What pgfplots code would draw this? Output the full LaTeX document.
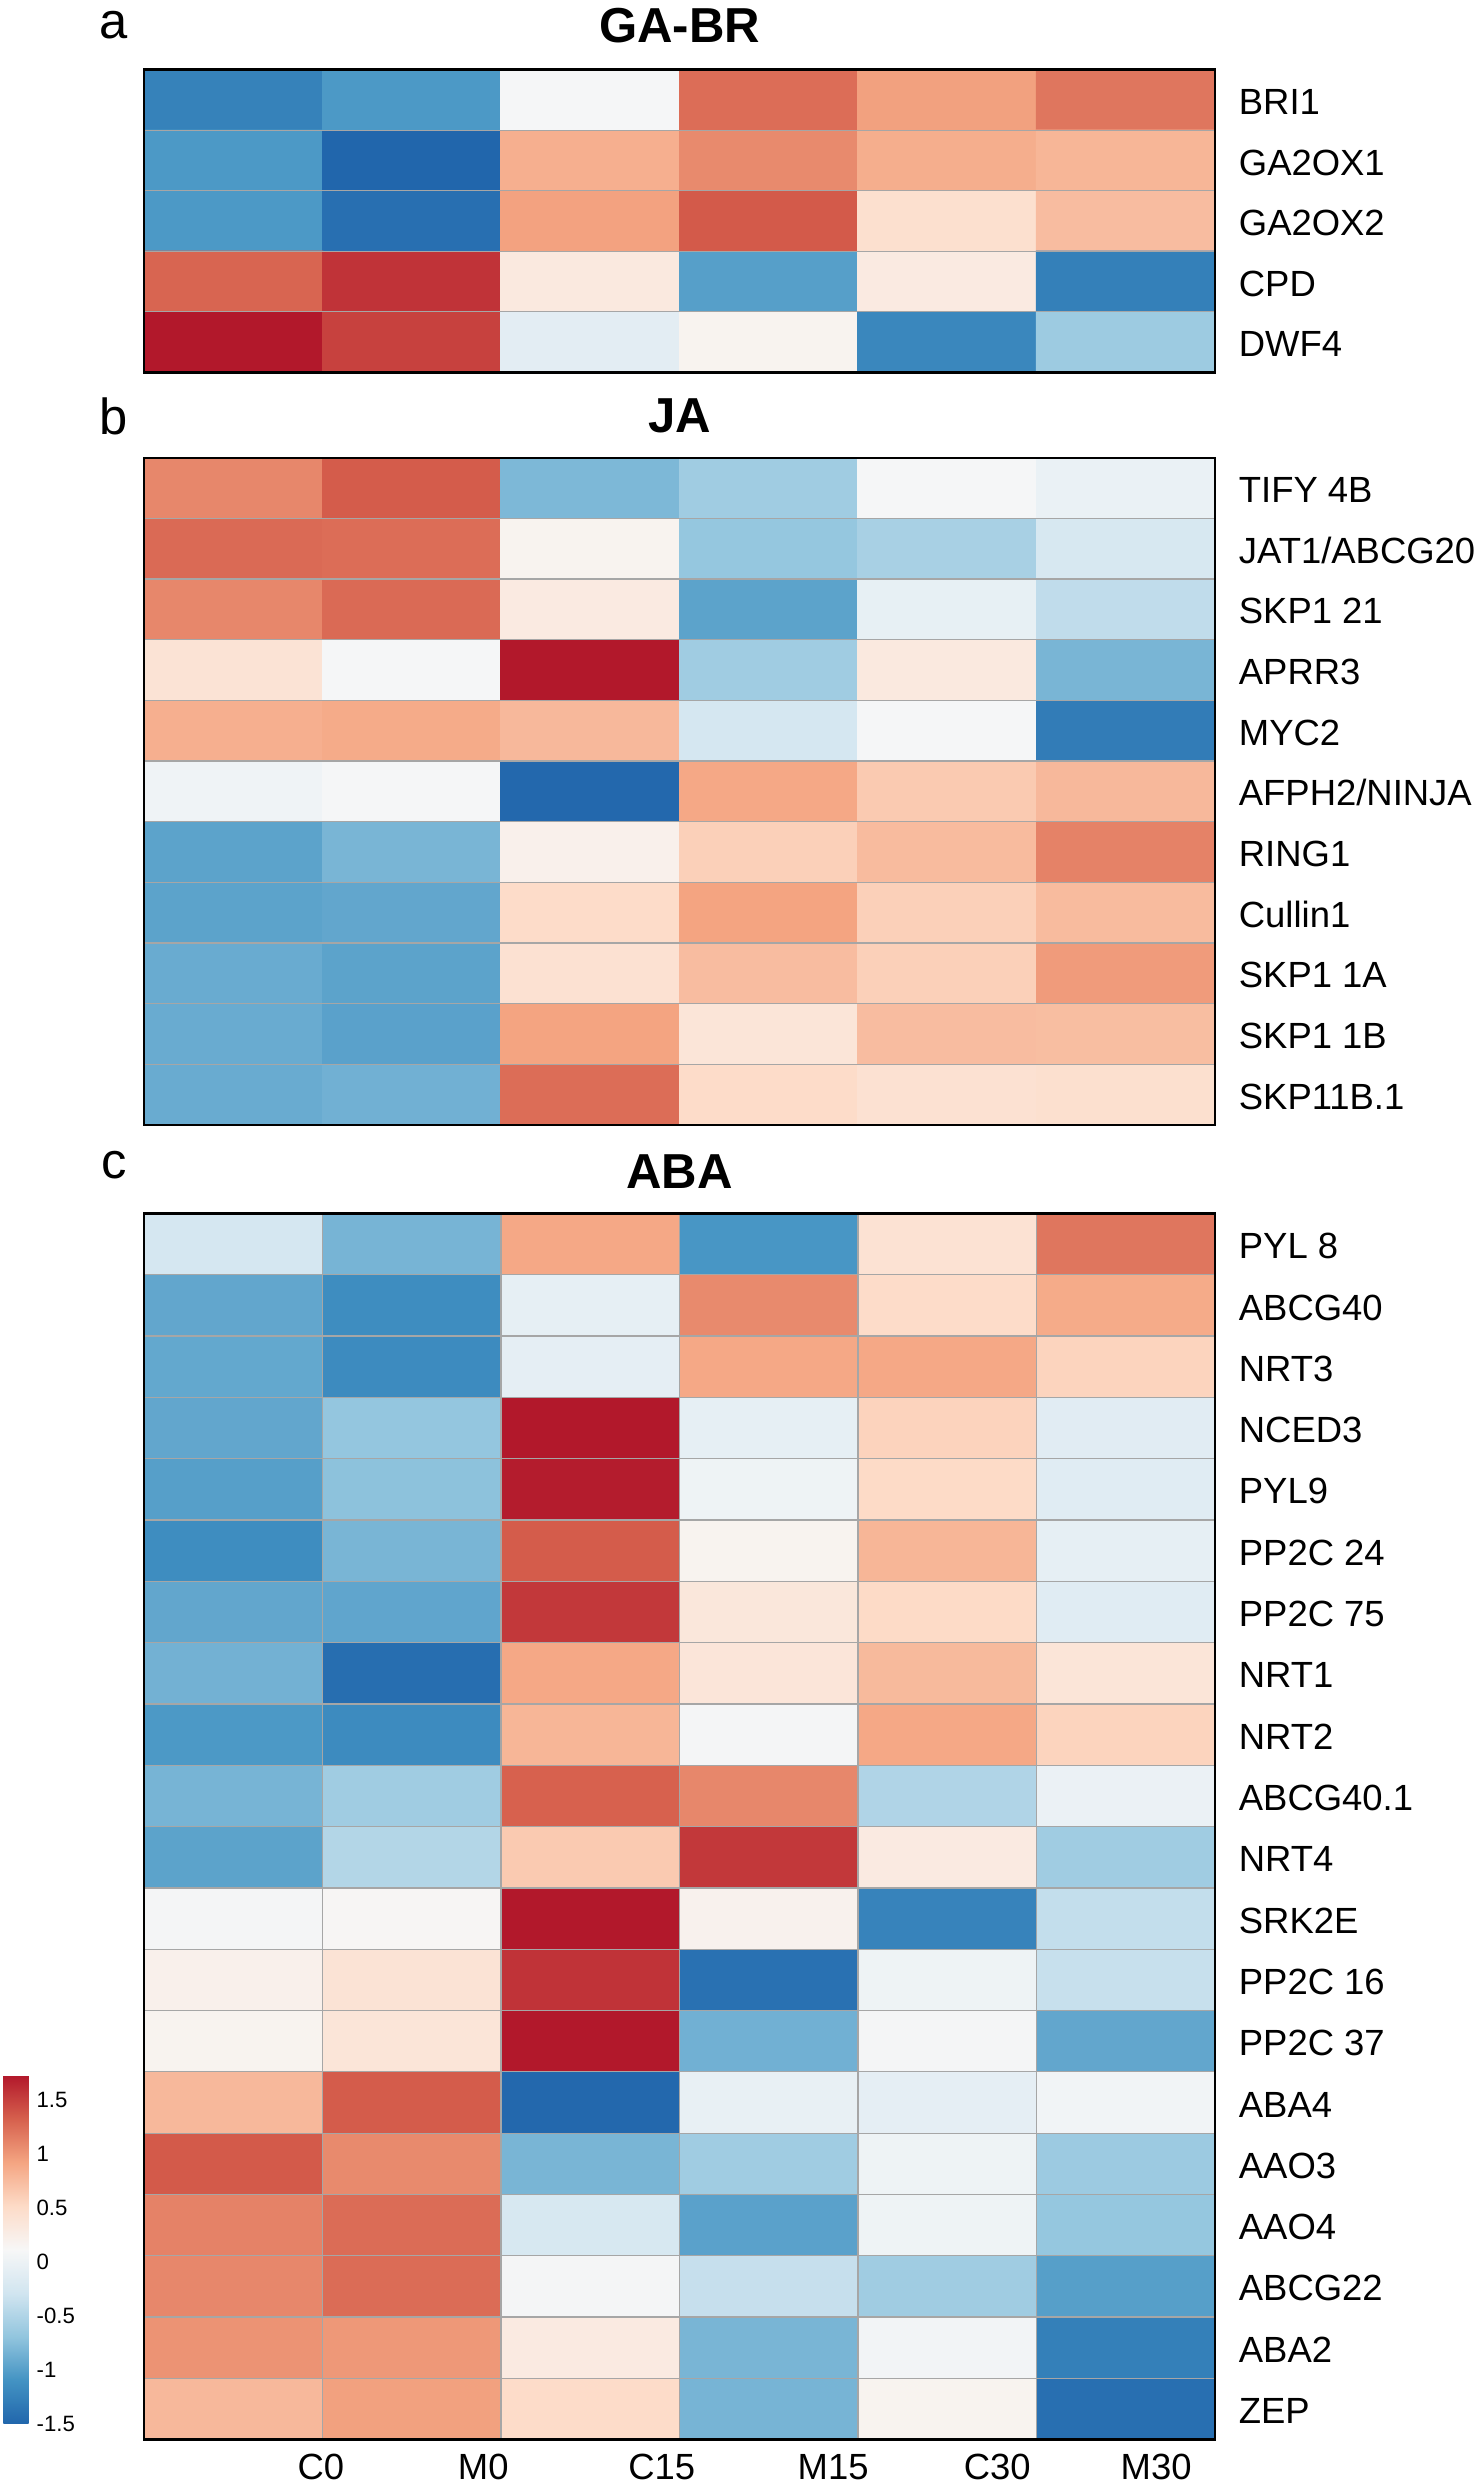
\documentclass[border=0pt]{standalone}
\usepackage{pgfplots}
\pgfplotsset{compat=1.18}
\usepackage{fontspec}
\setmainfont{Liberation Sans}

\pgfplotsset{
 colormap={rdbu}{rgb255(0)=(33,102,172) rgb255(1)=(67,147,195) rgb255(2)=(146,197,222) rgb255(3)=(209,229,240) rgb255(4)=(247,247,247) rgb255(5)=(253,219,199) rgb255(6)=(244,165,130) rgb255(7)=(214,96,77) rgb255(8)=(178,24,43)},
 hm/.style={
   scale only axis, width=338pt, y dir=reverse,
   xmin=-0.5, xmax=5.5,
   colormap name=rdbu, point meta min=-1.5, point meta max=1.73,
   axis on top, axis line style={line width=0.8pt},
   xtick=\empty, minor xtick={0.5,1.5,2.5,3.5,4.5}, xminorgrids=true,
   yminorgrids=true,
   minor grid style={draw=gray!70, line width=0.4pt},
   major tick length=0pt, minor tick length=0pt,
   yticklabel pos=right,
   yticklabel style={anchor=base west, font=\fontsize{11.5}{13}\selectfont, xshift=4pt, yshift=-4.6pt},
 }
}

\begin{document}
\begin{tikzpicture}
\path[use as bounding box] (0,0) rectangle (467pt,-784pt);

% ---------- panel a ----------
\begin{axis}[hm, at={(45.5pt,-22pt)}, anchor=north west, height=95.5pt,
  ymin=-0.5, ymax=4.5, minor ytick={0.5,1.5,2.5,3.5},
  ytick={0,1,2,3,4}, yticklabels={BRI1,GA2OX1,GA2OX2,CPD,DWF4}]
\addplot[matrix plot*, mesh/cols=6, point meta=explicit] table[meta=v]{
x y v
0 0 -1.25
1 0 -1.05
2 0 0.10
3 0 1.25
4 0 0.95
5 0 1.20
0 1 -1.05
1 1 -1.50
2 1 0.85
3 1 1.08
4 1 0.86
5 1 0.80
0 2 -1.05
1 2 -1.42
2 2 0.94
3 2 1.36
4 2 0.45
5 2 0.75
0 3 1.30
1 3 1.58
2 3 0.32
3 3 -1.00
4 3 0.30
5 3 -1.27
0 4 1.73
1 4 1.50
2 4 -0.10
3 4 0.18
4 4 -1.20
5 4 -0.62
};
\end{axis}

% ---------- panel b ----------
\begin{axis}[hm, at={(45.5pt,-144.5pt)}, anchor=north west, height=210.5pt,
  ymin=-0.5, ymax=10.5, minor ytick={0.5,1.5,...,9.5},
  ytick={0,1,...,10}, yticklabels={{TIFY 4B},{JAT1/ABCG20},{SKP1 21},{APRR3},{MYC2},{AFPH2/NINJA},{RING1},{Cullin1},{SKP1 1A},{SKP1 1B},{SKP11B.1}}]
\addplot[matrix plot*, mesh/cols=6, point meta=explicit] table[meta=v]{
x y v
0 0 1.10
1 0 1.35
2 0 -0.80
3 0 -0.60
4 0 0.10
5 0 -0.02
0 1 1.27
1 1 1.25
2 1 0.18
3 1 -0.67
4 1 -0.55
5 1 -0.22
0 2 1.10
1 2 1.27
2 2 0.30
3 2 -0.97
4 2 -0.05
5 2 -0.40
0 3 0.40
1 3 0.10
2 3 1.73
3 3 -0.60
4 3 0.32
5 3 -0.82
0 4 0.85
1 4 0.88
2 4 0.78
3 4 -0.25
4 4 0.10
5 4 -1.30
0 5 0.03
1 5 0.10
2 5 -1.48
3 5 0.90
4 5 0.65
5 5 0.78
0 6 -0.97
1 6 -0.82
2 6 0.22
3 6 0.60
4 6 0.76
5 6 1.13
0 7 -0.97
1 7 -0.94
2 7 0.50
3 7 0.93
4 7 0.60
5 7 0.76
0 8 -0.90
1 8 -0.97
2 8 0.43
3 8 0.75
4 8 0.60
5 8 0.98
0 9 -0.90
1 9 -0.98
2 9 0.93
3 9 0.38
4 9 0.75
5 9 0.74
0 10 -0.90
1 10 -0.86
2 10 1.25
3 10 0.50
4 10 0.43
5 10 0.45
};
\end{axis}

% ---------- panel c ----------
\begin{axis}[hm, at={(45.5pt,-383pt)}, anchor=north west, height=387pt,
  ymin=-0.5, ymax=19.5, minor ytick={0.5,1.5,...,18.5},
  ytick={0,1,...,19}, yticklabels={{PYL 8},{ABCG40},{NRT3},{NCED3},{PYL9},{PP2C 24},{PP2C 75},{NRT1},{NRT2},{ABCG40.1},{NRT4},{SRK2E},{PP2C 16},{PP2C 37},{ABA4},{AAO3},{AAO4},{ABCG22},{ABA2},{ZEP}},
  xtick={0.49,1.40,2.40,3.36,4.28,5.17}, xticklabels={C0,M0,C15,M15,C30,M30},
  xticklabel style={font=\fontsize{11.5}{13}\selectfont, anchor=north, yshift=-1pt},
  colorbar,
  colorbar style={at={(parent axis.south west)}, anchor=south west, xshift=-53pt, yshift=5pt,
    width=8pt, height=110pt, scale only axis,
    ytick={-1.5,-1,-0.5,0,0.5,1,1.5}, yticklabels={-1.5,-1,-0.5,0,0.5,1,1.5},
    yticklabel style={font=\fontsize{7}{8}\selectfont, xshift=-1pt},
    major tick length=0pt, axis line style={draw=none}}]
\addplot[matrix plot*, mesh/cols=6, point meta=explicit] table[meta=v]{
x y v
0 0 -0.25
1 0 -0.83
2 0 0.90
3 0 -1.07
4 0 0.42
5 0 1.20
0 1 -0.94
1 1 -1.15
2 1 -0.07
3 1 1.08
4 1 0.50
5 1 0.88
0 2 -0.93
1 2 -1.17
2 2 -0.08
3 2 0.90
4 2 0.90
5 2 0.57
0 3 -0.94
1 3 -0.68
2 3 1.73
3 3 -0.06
4 3 0.58
5 3 -0.12
0 4 -1.00
1 4 -0.72
2 4 1.71
3 4 0.02
4 4 0.52
5 4 -0.13
0 5 -1.15
1 5 -0.82
2 5 1.35
3 5 0.18
4 5 0.80
5 5 -0.07
0 6 -0.94
1 6 -0.95
2 6 1.55
3 6 0.35
4 6 0.52
5 6 -0.13
0 7 -0.85
1 7 -1.43
2 7 0.90
3 7 0.37
4 7 0.77
5 7 0.38
0 8 -1.05
1 8 -1.17
2 8 0.80
3 8 0.08
4 8 0.90
5 8 0.57
0 9 -0.83
1 9 -0.60
2 9 1.32
3 9 1.10
4 9 -0.50
5 9 -0.01
0 10 -0.97
1 10 -0.48
2 10 0.65
3 10 1.55
4 10 0.30
5 10 -0.60
0 11 0.08
1 11 0.14
2 11 1.73
3 11 0.20
4 11 -1.24
5 11 -0.38
0 12 0.22
1 12 0.40
2 12 1.58
3 12 -1.40
4 12 0.02
5 12 -0.35
0 13 0.18
1 13 0.38
2 13 1.73
3 13 -0.86
4 13 0.08
5 13 -0.94
0 14 0.78
1 14 1.35
2 14 -1.48
3 14 -0.04
4 14 -0.08
5 14 0.05
0 15 1.36
1 15 1.08
2 15 -0.82
3 15 -0.60
4 15 0.02
5 15 -0.63
0 16 1.13
1 16 1.26
2 16 -0.22
3 16 -0.98
4 16 0.02
5 16 -0.67
0 17 1.10
1 17 1.26
2 17 0.08
3 17 -0.36
4 17 -0.60
5 17 -1.00
0 18 1.03
1 18 1.00
2 18 0.30
3 18 -0.82
4 18 0.06
5 18 -1.27
0 19 0.78
1 19 0.95
2 19 0.50
3 19 -0.83
4 19 0.18
5 19 -1.42
};
\end{axis}

% titles and panel letters
\node[font=\fontsize{15.5}{18}\selectfont\bfseries, anchor=base] at (214.5pt,-13.5pt) {GA-BR};
\node[font=\fontsize{15.5}{18}\selectfont\bfseries, anchor=base] at (214.5pt,-136.5pt) {JA};
\node[font=\fontsize{15.5}{18}\selectfont\bfseries, anchor=base] at (214.5pt,-375pt) {ABA};
\node[font=\fontsize{16}{18}\selectfont, anchor=base] at (36pt,-12pt) {a};
\node[font=\fontsize{16}{18}\selectfont, anchor=base] at (36pt,-137pt) {b};
\node[font=\fontsize{16}{18}\selectfont, anchor=base] at (36pt,-372pt) {c};
\end{tikzpicture}
\end{document}
